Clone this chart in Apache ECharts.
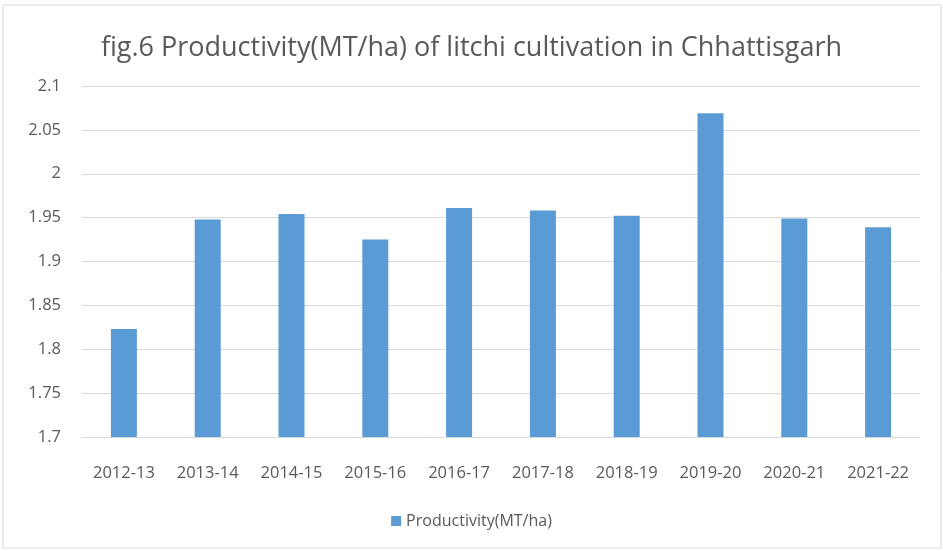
<!DOCTYPE html>
<html>
<head>
<meta charset="utf-8">
<script src="https://cdn.jsdelivr.net/npm/echarts@6/dist/echarts.min.js"></script>
<style>
  html, body { margin: 0; padding: 0; background: #fff; }
  #chart { width: 943px; height: 551px; }
</style>
</head>
<body>
<div id="chart"></div>
<script>
// data
var years = ['2012-13', '2013-14', '2014-15', '2015-16', '2016-17', '2017-18', '2018-19', '2019-20', '2020-21', '2021-22'];
var productivity = [1.823, 1.948, 1.954, 1.925, 1.961, 1.958, 1.952, 2.069, 1.949, 1.939];
var seriesName = 'Productivity(MT/ha)';
var titleText = 'fig.6 Productivity(MT/ha) of litchi cultivation in Chhattisgarh';

var font = '"Open Sans", sans-serif';
var txt = '#595959';

var option = {
    backgroundColor: '#fff',
    animation: false,
    title: {
        text: titleText,
        left: 'center',
        top: 30,
        textStyle: { fontFamily: font, fontSize: 27, fontWeight: 'normal', color: txt }
    },
    graphic: [{
        type: 'rect',
        shape: { x: 3, y: 5, width: 938, height: 543 },
        style: { fill: 'none', stroke: '#d9d9d9', lineWidth: 1 },
        z: -1
    }],
    legend: {
        bottom: 17,
        left: 'center',
        itemWidth: 10,
        itemHeight: 10,
        itemGap: 5,
        icon: 'rect',
        textStyle: { fontFamily: font, fontSize: 16, color: txt },
        data: [seriesName]
    },
    grid: { left: 82, right: 23, top: 86, bottom: 114 },
    xAxis: {
        type: 'category',
        data: years,
        axisLine: { lineStyle: { color: '#d9d9d9' } },
        axisTick: { show: false },
        axisLabel: { margin: 28, fontFamily: font, fontSize: 16.5, color: txt }
    },
    yAxis: {
        type: 'value',
        min: 1.7,
        max: 2.1,
        interval: 0.05,
        axisLine: { show: false },
        axisTick: { show: false },
        splitLine: { lineStyle: { color: '#d9d9d9', width: 1 } },
        axisLabel: {
            margin: 21, fontFamily: font, fontSize: 16.5, color: txt,
            formatter: function (v) { return String(+v.toFixed(2)); }
        }
    },
    series: [{
        name: seriesName,
        type: 'bar',
        data: productivity,
        barWidth: 26,
        itemStyle: { color: '#5B9BD5' }
    }]
};

var myChart = echarts.init(document.getElementById('chart'));
myChart.setOption(option);
</script>
</body>
</html>
